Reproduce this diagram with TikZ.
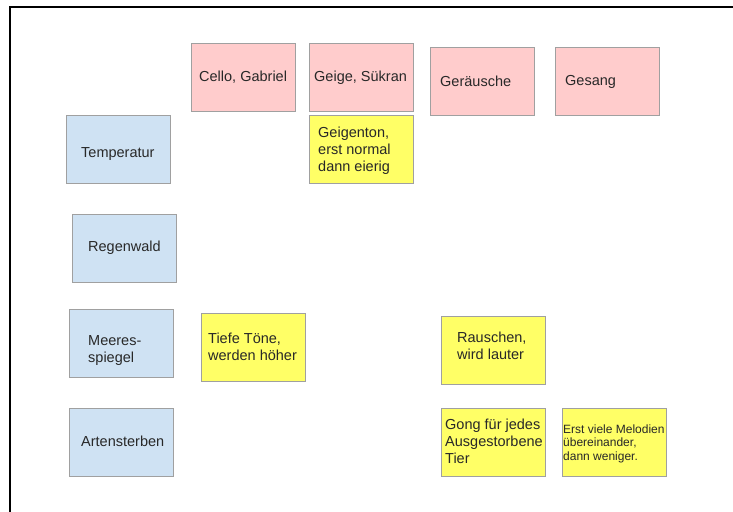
\documentclass[tikz,border=0pt]{standalone}
\usepackage{fontspec}
\setmainfont{Liberation Sans}
\definecolor{pinkfill}{RGB}{255,204,204}
\definecolor{bluefill}{RGB}{207,226,243}
\definecolor{yellowfill}{RGB}{255,255,102}
\definecolor{boxline}{RGB}{160,160,160}
\definecolor{txt}{RGB}{40,40,40}
\begin{document}
\begin{tikzpicture}[x=1pt,y=-1pt,
  card/.style={draw=boxline, line width=0.9pt, inner sep=0pt, anchor=north west,
    minimum width=104pt, minimum height=68pt},
  pinkcard/.style={card, fill=pinkfill},
  bluecard/.style={card, fill=bluefill},
  yellowcard/.style={card, fill=yellowfill},
  lbl/.style={anchor=west, inner sep=0pt, align=left, text=txt,
    font=\fontsize{14.5}{17}\selectfont},
  smalllbl/.style={lbl, font=\fontsize{12}{13.5}\selectfont},
  frame/.style={line width=2.5pt, line cap=rect}]
\useasboundingbox (0,0) rectangle (733,511);
\fill[white] (0,0) rectangle (733,511);
\coordinate (fc) at (10,7);
\coordinate (fr) at (733,7);
\coordinate (fb) at (10,511);
\draw[frame] (fr) -- (fc) -- (fb);

% pink row
\node[pinkcard] (cello) at (191,43) {};
\node[pinkcard] (geige) at (309,43) {};
\node[pinkcard] (geraeusche) at (430,47) {};
\node[pinkcard] (gesang) at (555,47) {};
% blue column
\node[bluecard] (temp) at (66,115) {};
\node[bluecard] (regen) at (72,214) {};
\node[bluecard] (meer) at (69,309) {};
\node[bluecard] (arten) at (69,408) {};
% yellow
\node[yellowcard] (geigenton) at (309,115) {};
\node[yellowcard] (tiefe) at (201,313) {};
\node[yellowcard] (rauschen) at (441,316) {};
\node[yellowcard] (gong) at (441,408) {};
\node[yellowcard] (erst) at (562,408) {};

% labels
\node[lbl] (tcello) at ([xshift=8pt]cello.west) {Cello, Gabriel};
\node[lbl] (tgeige) at ([xshift=5pt]geige.west) {Geige, Sükran};
\node[lbl] (tgeraeusche) at ([xshift=10pt]geraeusche.west) {Geräusche};
\node[lbl] (tgesang) at ([xshift=10pt]gesang.west) {Gesang};
\node[lbl] (ttemp) at ([xshift=15pt,yshift=-5pt]temp.west) {Temperatur};
\node[lbl] (tregen) at ([xshift=16pt,yshift=1pt]regen.west) {Regenwald};
\node[lbl] (tmeer) at ([xshift=19pt,yshift=-7pt]meer.west) {Meeres-\\spiegel};
\node[lbl] (tarten) at ([xshift=12pt,yshift=1pt]arten.west) {Artensterben};
\node[lbl] (tgeigenton) at ([xshift=9pt,yshift=-1pt]geigenton.west) {Geigenton,\\erst normal\\dann eierig};
\node[lbl] (ttiefe) at ([xshift=7pt,yshift=1pt]tiefe.west) {Tiefe Töne,\\werden höher};
\node[lbl] (trauschen) at ([xshift=16pt,yshift=5pt]rauschen.west) {Rauschen,\\wird lauter};
\node[lbl] (tgong) at ([xshift=4pt,yshift=1pt]gong.west) {Gong für jedes\\Ausgestorbene\\Tier};
\node[smalllbl] (terst) at ([xshift=1pt,yshift=-1pt]erst.west) {Erst viele Melodien\\übereinander,\\dann weniger.};
\end{tikzpicture}
\end{document}
